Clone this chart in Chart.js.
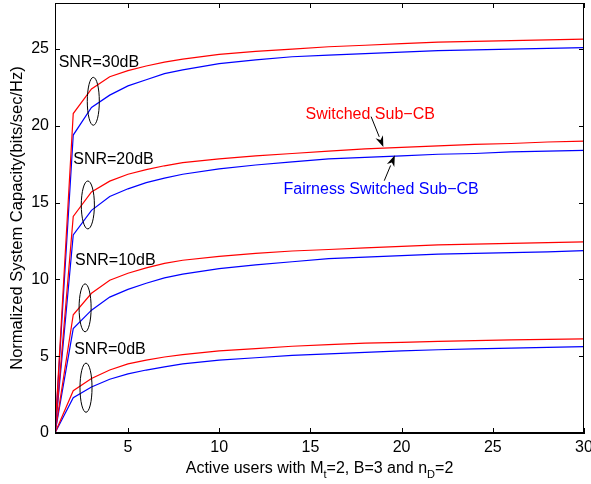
<!DOCTYPE html>
<html>
<head>
<meta charset="utf-8">
<script src="https://cdn.jsdelivr.net/npm/chart.js@4.4.1/dist/chart.umd.min.js"></script>
<style>
  html, body { margin: 0; padding: 0; background: #fff; }
  canvas { display: block; }
</style>
</head>
<body>
<canvas id="chart" width="591" height="484"></canvas>
<script>
// active users (x)
const users = [1, 2, 3, 4, 5, 6, 7, 8, 10, 12, 14, 16, 18, 20, 22, 24, 26, 28, 30];

// Switched Sub-CB (red)
const sw30 = [0, 20.8, 22.4, 23.2, 23.6, 23.9, 24.15, 24.35, 24.65, 24.85, 25.0, 25.15, 25.25, 25.35, 25.45, 25.5, 25.55, 25.6, 25.65];
const sw20 = [0, 14.1, 15.7, 16.4, 16.85, 17.15, 17.4, 17.6, 17.85, 18.05, 18.2, 18.35, 18.5, 18.6, 18.7, 18.8, 18.85, 18.95, 19.0];
const sw10 = [0, 7.7, 9.1, 9.95, 10.4, 10.75, 11.05, 11.25, 11.5, 11.7, 11.85, 11.95, 12.05, 12.15, 12.25, 12.3, 12.35, 12.4, 12.45];
const sw0 = [0, 2.75, 3.55, 4.1, 4.5, 4.75, 4.95, 5.1, 5.35, 5.5, 5.65, 5.75, 5.85, 5.9, 5.97, 6.02, 6.06, 6.1, 6.13];

// Fairness Switched Sub-CB (blue)
const fair30 = [0, 19.4, 21.2, 22.0, 22.6, 23.0, 23.4, 23.65, 24.05, 24.3, 24.5, 24.6, 24.7, 24.8, 24.9, 24.95, 25.0, 25.05, 25.1];
const fair20 = [0, 12.9, 14.5, 15.4, 15.9, 16.3, 16.6, 16.85, 17.2, 17.45, 17.65, 17.85, 17.95, 18.05, 18.15, 18.2, 18.3, 18.35, 18.4];
const fair10 = [0, 6.8, 8.0, 8.85, 9.35, 9.75, 10.1, 10.35, 10.7, 10.95, 11.15, 11.35, 11.45, 11.55, 11.65, 11.7, 11.75, 11.8, 11.87];
const fair0 = [0, 2.3, 3.0, 3.5, 3.85, 4.1, 4.3, 4.5, 4.75, 4.9, 5.05, 5.15, 5.25, 5.35, 5.42, 5.48, 5.53, 5.58, 5.62];

const xTicks = [5, 10, 15, 20, 25, 30];
const yTicks = [0, 5, 10, 15, 20, 25];

// SNR labels: text, x (data) of left edge, y (data) of middle of text
const snrLabels = ["SNR=30dB", "SNR=20dB", "SNR=10dB", "SNR=0dB"];
const snrLabelX = [1.2, 2.0, 2.1, 2.05];
const snrLabelY = [24.15, 17.8, 11.2, 5.4];
// ellipses round the curve pairs: centre (data) and half sizes (data)
const ellX = [3.1, 2.8, 2.65, 2.7];
const ellY = [21.6, 14.85, 8.15, 2.95];
const ellRx = [0.33, 0.36, 0.33, 0.33];
const ellRy = [1.56, 1.56, 1.56, 1.6];

const FONT = '"Liberation Sans", Arial, Helvetica, sans-serif';

function pts(ys) {
  return users.map((u, i) => ({ x: u, y: ys[i] }));
}

function line(label, ys, color) {
  return {
    label: label,
    data: pts(ys),
    borderColor: color,
    backgroundColor: color,
    borderWidth: 1.2,
    pointRadius: 0,
    tension: 0,
    fill: false,
  };
}

function arrow(ctx, x1, y1, x2, y2) {
  const ang = Math.atan2(y2 - y1, x2 - x1);
  const len = 11, half = 4;
  ctx.beginPath();
  ctx.moveTo(x1, y1);
  ctx.lineTo(x2 - len * Math.cos(ang), y2 - len * Math.sin(ang));
  ctx.stroke();
  ctx.beginPath();
  ctx.moveTo(x2, y2);
  ctx.lineTo(x2 - len * Math.cos(ang) + half * Math.sin(ang), y2 - len * Math.sin(ang) - half * Math.cos(ang));
  ctx.lineTo(x2 - len * 0.7 * Math.cos(ang), y2 - len * 0.7 * Math.sin(ang));
  ctx.lineTo(x2 - len * Math.cos(ang) - half * Math.sin(ang), y2 - len * Math.sin(ang) + half * Math.cos(ang));
  ctx.closePath();
  ctx.fill();
}

const decor = {
  id: "decor",
  afterDatasetsDraw(chart) {
    const ctx = chart.ctx;
    const xs = chart.scales.x, ys = chart.scales.y;
    const a = chart.chartArea;
    ctx.save();

    // box and inward ticks
    ctx.strokeStyle = "#000";
    ctx.lineWidth = 1;
    ctx.strokeRect(a.left + 0.5, a.top + 0.5, a.right - a.left - 1, a.bottom - a.top - 1);
    ctx.beginPath();
    xTicks.forEach(v => {
      const px = Math.round(xs.getPixelForValue(v)) + 0.5;
      ctx.moveTo(px, a.bottom); ctx.lineTo(px, a.bottom - 5);
      ctx.moveTo(px, a.top); ctx.lineTo(px, a.top + 5);
    });
    yTicks.forEach(v => {
      const py = Math.round(ys.getPixelForValue(v)) + 0.5;
      ctx.moveTo(a.left, py); ctx.lineTo(a.left + 5, py);
      ctx.moveTo(a.right, py); ctx.lineTo(a.right - 5, py);
    });
    ctx.stroke();

    // ellipses and SNR labels
    ctx.fillStyle = "#000";
    ctx.font = "16px " + FONT;
    ctx.textBaseline = "middle";
    ctx.textAlign = "left";
    snrLabels.forEach((t, i) => {
      ctx.fillText(t, xs.getPixelForValue(snrLabelX[i]), ys.getPixelForValue(snrLabelY[i]));
      const cx = xs.getPixelForValue(ellX[i]);
      const cy = ys.getPixelForValue(ellY[i]);
      const rx = xs.getPixelForValue(ellX[i] + ellRx[i]) - cx;
      const ry = cy - ys.getPixelForValue(ellY[i] + ellRy[i]);
      ctx.beginPath();
      ctx.ellipse(cx, cy, rx, ry, 0, 0, Math.PI * 2);
      ctx.stroke();
    });

    // series labels with arrows
    ctx.fillStyle = "#ff0000";
    ctx.fillText("Switched Sub\u2212CB", xs.getPixelForValue(14.73), ys.getPixelForValue(20.76));
    ctx.fillStyle = "#0000ff";
    ctx.fillText("Fairness Switched Sub\u2212CB", xs.getPixelForValue(13.53), ys.getPixelForValue(15.82));
    ctx.fillStyle = "#000";
    ctx.lineWidth = 1;
    arrow(ctx, xs.getPixelForValue(18.33), ys.getPixelForValue(20.6), xs.getPixelForValue(19.0), ys.getPixelForValue(18.62));
    arrow(ctx, xs.getPixelForValue(19.05), ys.getPixelForValue(16.43), xs.getPixelForValue(19.63), ys.getPixelForValue(18.08));

    // y title
    ctx.fillStyle = "#000";
    ctx.textAlign = "center";
    ctx.font = "16.5px " + FONT;
    ctx.save();
    ctx.translate(17, (a.top + a.bottom) / 2);
    ctx.rotate(-Math.PI / 2);
    ctx.fillText("Normalized System Capacity(bits/sec/Hz)", 0, 0);
    ctx.restore();

    // x title with subscripts
    const parts = [
      ["Active users with M", false], ["t", true], ["=2, B=3 and n", false], ["D", true], ["=2", false]
    ];
    const big = "16px " + FONT, small = "11px " + FONT;
    let total = 0;
    parts.forEach(p => { ctx.font = p[1] ? small : big; total += ctx.measureText(p[0]).width; });
    let x = (a.left + a.right) / 2 - total / 2;
    const base = 473;
    ctx.textAlign = "left";
    ctx.textBaseline = "alphabetic";
    parts.forEach(p => {
      ctx.font = p[1] ? small : big;
      ctx.fillText(p[0], x, p[1] ? base + 5 : base);
      x += ctx.measureText(p[0]).width;
    });
    ctx.restore();
  }
};

function noPad(s) {
  s.paddingTop = 0;
  s.paddingBottom = 0;
  s.paddingLeft = 0;
  s.paddingRight = 0;
}

new Chart(document.getElementById("chart"), {
  type: "line",
  data: {
    datasets: [
      line("Switched Sub-CB SNR=30dB", sw30, "#ff0000"),
      line("Fairness Switched Sub-CB SNR=30dB", fair30, "#0000ff"),
      line("Switched Sub-CB SNR=20dB", sw20, "#ff0000"),
      line("Fairness Switched Sub-CB SNR=20dB", fair20, "#0000ff"),
      line("Switched Sub-CB SNR=10dB", sw10, "#ff0000"),
      line("Fairness Switched Sub-CB SNR=10dB", fair10, "#0000ff"),
      line("Switched Sub-CB SNR=0dB", sw0, "#ff0000"),
      line("Fairness Switched Sub-CB SNR=0dB", fair0, "#0000ff"),
    ],
  },
  options: {
    responsive: false,
    animation: false,
    devicePixelRatio: 1,
    layout: { padding: { top: 3, right: 7, left: 0, bottom: 0 } },
    plugins: { legend: { display: false }, tooltip: { enabled: false } },
    scales: {
      x: {
        type: "linear",
        min: 1,
        max: 30,
        afterBuildTicks: s => { s.ticks = xTicks.map(v => ({ value: v })); },
        afterFit: s => { s.height = 51; noPad(s); },
        grid: { display: false, drawTicks: false },
        border: { display: true, color: "#000" },
        ticks: { color: "#000", font: { size: 16, family: FONT }, padding: 5, maxRotation: 0 },
      },
      y: {
        min: 0,
        max: 28,
        afterBuildTicks: s => { s.ticks = yTicks.map(v => ({ value: v })); },
        afterFit: s => { s.width = 55; noPad(s); },
        grid: { display: false, drawTicks: false },
        border: { display: true, color: "#000" },
        ticks: { color: "#000", font: { size: 16, family: FONT }, padding: 6 },
      },
    },
  },
  plugins: [decor],
});
</script>
</body>
</html>
